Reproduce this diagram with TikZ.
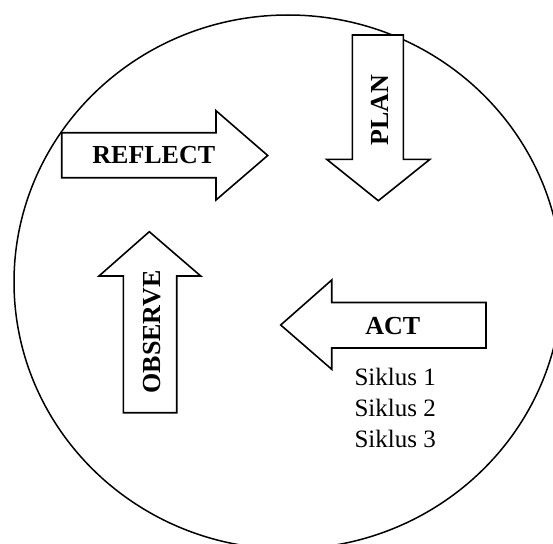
\documentclass[tikz,border=0pt]{standalone}
\usepackage{fontspec}
\setmainfont{Liberation Serif}
\begin{document}
\begin{tikzpicture}[x=1pt,y=-1pt,
  blockarrow/.style={draw=black,fill=white,line width=1.6pt,line join=miter},
  ring/.style={draw=black,line width=1.5pt},
  label/.style={font=\fontsize{26}{30}\selectfont\bfseries,inner sep=0pt},
  cycle/.style={font=\fontsize{25}{30}\selectfont,inner sep=0pt,anchor=base west}]
\useasboundingbox (0,0) rectangle (553,543);
\fill[white] (0,0) rectangle (553,543);
% outer circle
\draw[ring] (288,282) ellipse [x radius=274, y radius=267];
% REFLECT arrow (right)
\draw[blockarrow] (61.7,132.7) -- (216,132.7) -- (216,110.7) -- (267.7,155.5)
  -- (216,200) -- (216,177.7) -- (61.7,177.7) -- cycle;
\node[label] (reflect) at (153.8,155) {REFLECT};
% PLAN arrow (down)
\draw[blockarrow] (352.3,35) -- (403.3,35) -- (403.3,159.3) -- (430,159.3) -- (378.3,200.7)
  -- (326.7,159.3) -- (352.3,159.3) -- cycle;
\node[label,rotate=90] (plan) at (380,110) {PLAN};
% OBSERVE arrow (up)
\draw[blockarrow] (123.3,412.7) -- (123.3,276) -- (99,276) -- (149.3,231.7)
  -- (200.7,276) -- (176.7,276) -- (176.7,412.7) -- cycle;
\node[label,rotate=90] (observe) at (151.7,331.7) {OBSERVE};
% ACT arrow (left)
\draw[blockarrow] (486,302.5) -- (331.7,302.5) -- (331.7,280) -- (280.7,325)
  -- (331.7,369.3) -- (331.7,348) -- (486,348) -- cycle;
\node[label] (act) at (392.7,325.8) {ACT};
% cycles
\node[cycle] (s1) at (354.3,385) {Siklus 1};
\node[cycle] (s2) at (354.3,416.3) {Siklus 2};
\node[cycle] (s3) at (354.3,447.7) {Siklus 3};
\end{tikzpicture}
\end{document}
